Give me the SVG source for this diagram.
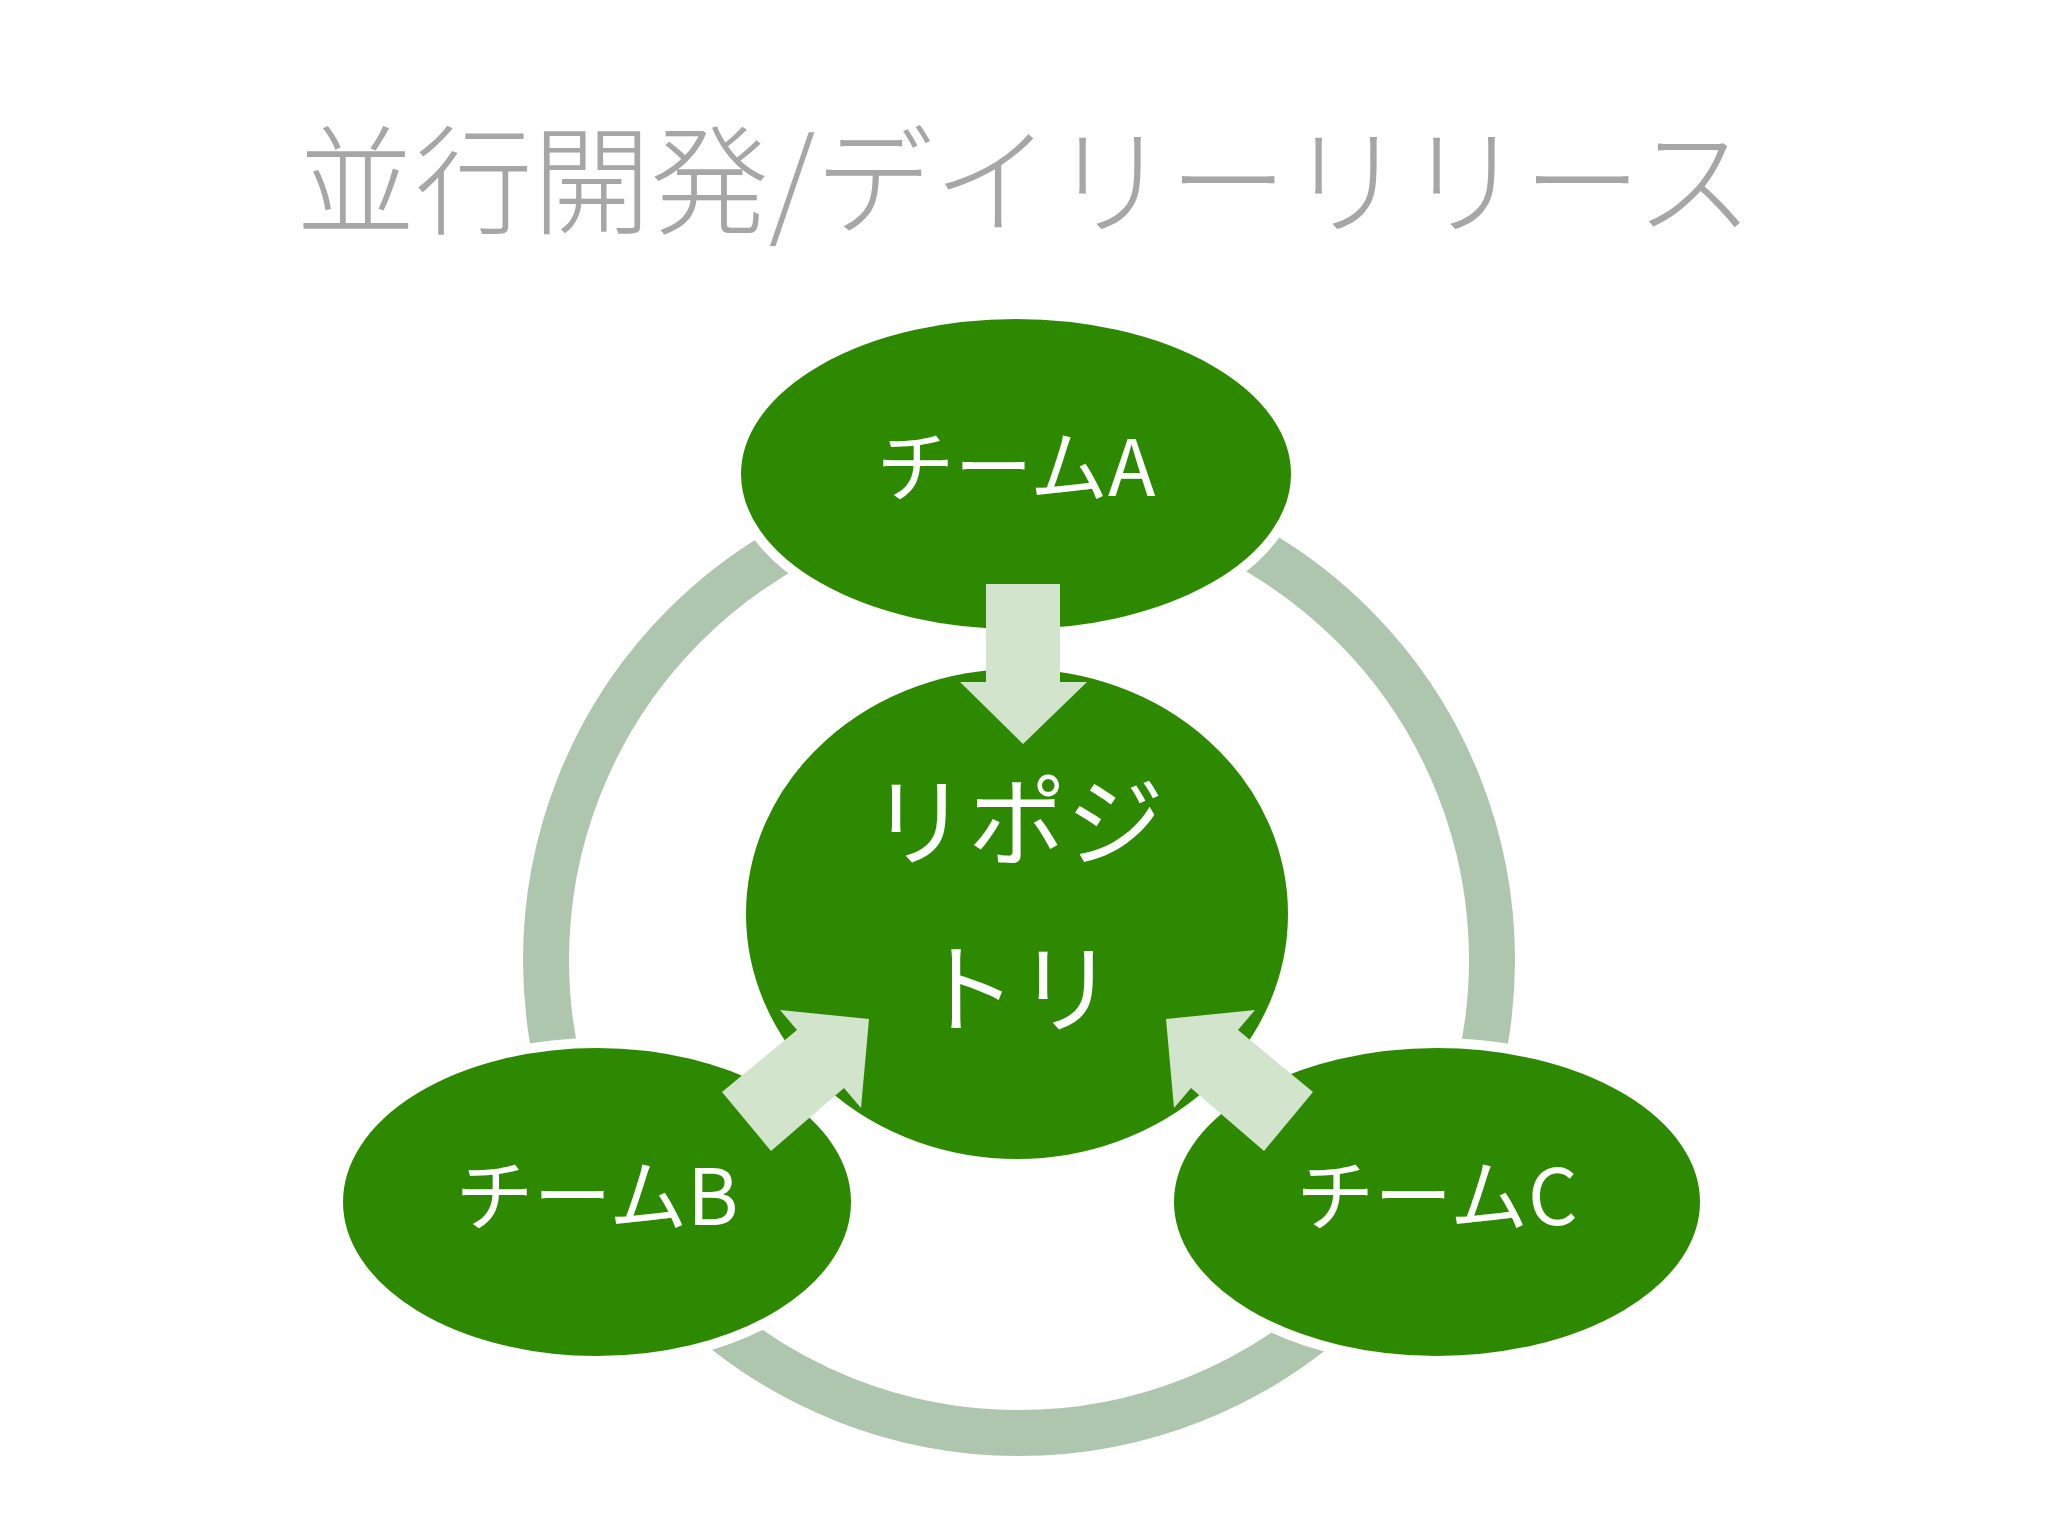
<svg xmlns="http://www.w3.org/2000/svg" width="2048" height="1536" viewBox="0 0 2048 1536">
<style>
.node{fill:#2d8a00;stroke:#fff;stroke-width:10}
.lbl{fill:#fff;font-family:"Noto Sans CJK JP","Noto Sans",sans-serif;text-anchor:middle}
.arr{fill:#d3e4cc}
</style>
<rect width="2048" height="1536" fill="#fff"/>
<text x="1025" y="225" font-size="118" fill="#a6a6a6" text-anchor="middle" font-family="Noto Sans CJK JP,sans-serif" font-weight="300">並行開発/デイリーリリース</text>
<g id="ring"><circle cx="1019" cy="960" r="473" fill="none" stroke="#adc6ad" stroke-width="46"/></g>
<g id="teamA"><ellipse class="node" cx="1016" cy="474" rx="280" ry="160"/><text class="lbl" x="1016" y="496" font-size="78">チームA</text></g>
<g id="repo"><ellipse class="node" cx="1017" cy="914" rx="276" ry="250"/><text class="lbl" x="1017" y="858" font-size="98">リポジ</text><text class="lbl" x="1017" y="1025" font-size="98">トリ</text></g>
<g id="teamB"><ellipse class="node" cx="597" cy="1202" rx="259" ry="159"/><text class="lbl" x="597" y="1225" font-size="78">チームB</text></g>
<g id="teamC"><ellipse class="node" cx="1437" cy="1202" rx="268" ry="159"/><text class="lbl" x="1437" y="1225" font-size="78">チームC</text></g>
<g id="connectors">
<polygon class="arr" points="986,584 1060,584 1060,682 1087,682 1023,744 960,682 986,682"/>
<polygon class="arr" points="722,1092 797,1030 780,1010 869,1019 861,1108 844,1088 771,1151"/>
<polygon class="arr" points="1313,1092 1238,1030 1255,1010 1166,1019 1174,1108 1191,1088 1264,1151"/>
</g>
</svg>
